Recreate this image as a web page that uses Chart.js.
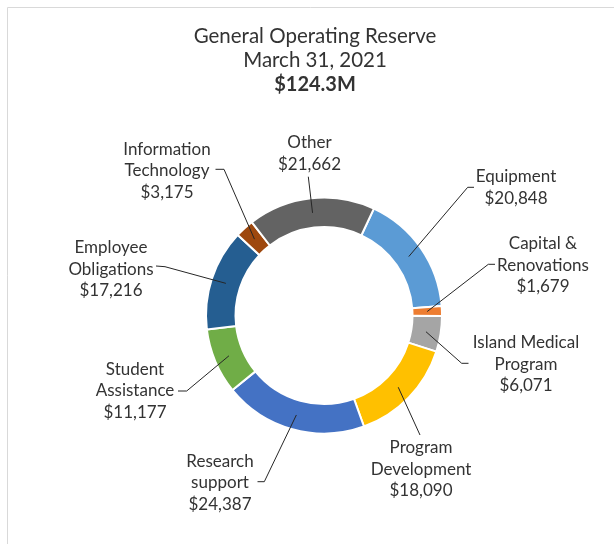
<!DOCTYPE html>
<html>
<head>
<meta charset="utf-8">
<script src="https://cdn.jsdelivr.net/npm/chart.js@4.4.1/dist/chart.umd.min.js"></script>
<style>
html,body{margin:0;padding:0;background:#fff}
#wrap{width:614px;height:544px}
</style>
</head>
<body>
<div id="wrap"><canvas id="myChart"></canvas></div>
<script>
const titleLines = ['General Operating Reserve', 'March 31, 2021'];
const totalLabel = '$124.3M';

const categories = [
  'Equipment',
  'Capital &\nRenovations',
  'Island Medical\nProgram',
  'Program\nDevelopment',
  'Research\nsupport',
  'Student\nAssistance',
  'Employee\nObligations',
  'Information\nTechnology',
  'Other'
];
const values = [20848, 1679, 6071, 18090, 24387, 11177, 17216, 3175, 21662];
const colors = ['#5B9BD5', '#ED7D31', '#A5A5A5', '#FFC000', '#4472C4', '#70AD47', '#255E91', '#9E480E', '#636363'];

// where each label sits and how its leader line runs (text centre x, first line y, bend, end)
const labelLayout = [
  {x: 516, y: 177, bend: [467.7, 187.3], end: [474, 187.3]},
  {x: 543, y: 244, bend: [488.3, 264.3], end: [495, 264.3]},
  {x: 526, y: 343, bend: [461.7, 363.3], end: [468.5, 363.3]},
  {x: 421, y: 448, bend: null, end: [420, 435]},
  {x: 220, y: 461.5, bend: [264.3, 481.7], end: [257.5, 481.7]},
  {x: 135, y: 369.3, bend: [186.7, 391], end: [178, 391]},
  {x: 111, y: 247.7, bend: [165, 266.7], end: [156, 266]},
  {x: 167, y: 149.3, bend: [224, 169.3], end: [215.5, 169.3]},
  {x: 309.5, y: 143, bend: null, end: [308.3, 176.7]}
];

const FONT = 'Lato, "Open Sans", sans-serif';
const TEXT = '#333333';

const labelsPlugin = {
  id: 'outLabels',
  beforeDraw(chart) {
    const c = chart.ctx;
    c.save();
    c.strokeStyle = '#d9d9d9';
    c.lineWidth = 1;
    c.beginPath();
    c.moveTo(7.5, chart.height);
    c.lineTo(7.5, 7.5);
    c.lineTo(chart.width, 7.5);
    c.stroke();
    c.restore();
  },
  afterDatasetsDraw(chart) {
    const c = chart.ctx;
    const meta = chart.getDatasetMeta(0);
    c.save();
    // titles
    c.fillStyle = TEXT;
    c.textAlign = 'center';
    c.textBaseline = 'middle';
    c.font = '20.5px ' + FONT;
    c.fillText(titleLines[0], 315, 36);
    c.fillText(titleLines[1], 315, 60);
    c.font = 'bold 20px ' + FONT;
    c.fillText(totalLabel, 315, 85);

    meta.data.forEach((arc, i) => {
      const p = arc.getProps(['x', 'y', 'startAngle', 'endAngle', 'innerRadius', 'outerRadius'], true);
      const mid = (p.startAngle + p.endAngle) / 2;
      const r = (p.innerRadius + p.outerRadius) / 2;
      const sx = p.x + Math.cos(mid) * r;
      const sy = p.y + Math.sin(mid) * r;
      const L = labelLayout[i];
      c.strokeStyle = '#262626';
      c.lineWidth = 1;
      c.beginPath();
      c.moveTo(sx, sy);
      if (L.bend) c.lineTo(L.bend[0], L.bend[1]);
      c.lineTo(L.end[0], L.end[1]);
      c.stroke();

      const lines = categories[i].split('\n');
      lines.push('$' + values[i].toLocaleString('en-US'));
      c.font = '17px ' + FONT;
      c.fillStyle = TEXT;
      lines.forEach((t, k) => c.fillText(t, L.x, L.y + k * 21.5));
    });
    c.restore();
  }
};

const ctx = document.getElementById('myChart').getContext('2d');

const mychart = new Chart(ctx, {
  type: 'doughnut',
  data: {
    labels: categories,
    datasets: [{
      data: values,
      backgroundColor: colors,
      borderColor: '#ffffff',
      borderWidth: 2
    }]
  },
  options: {
    responsive: true,
    maintainAspectRatio: false,
    animation: false,
    rotation: 25,
    cutout: '75%',
    layout: {padding: {top: 120, bottom: 33, left: 205, right: 171}},
    plugins: {
      legend: {display: false},
      tooltip: {enabled: false},
      title: {display: false}
    }
  },
  plugins: [labelsPlugin]
});
</script>
</body>
</html>
